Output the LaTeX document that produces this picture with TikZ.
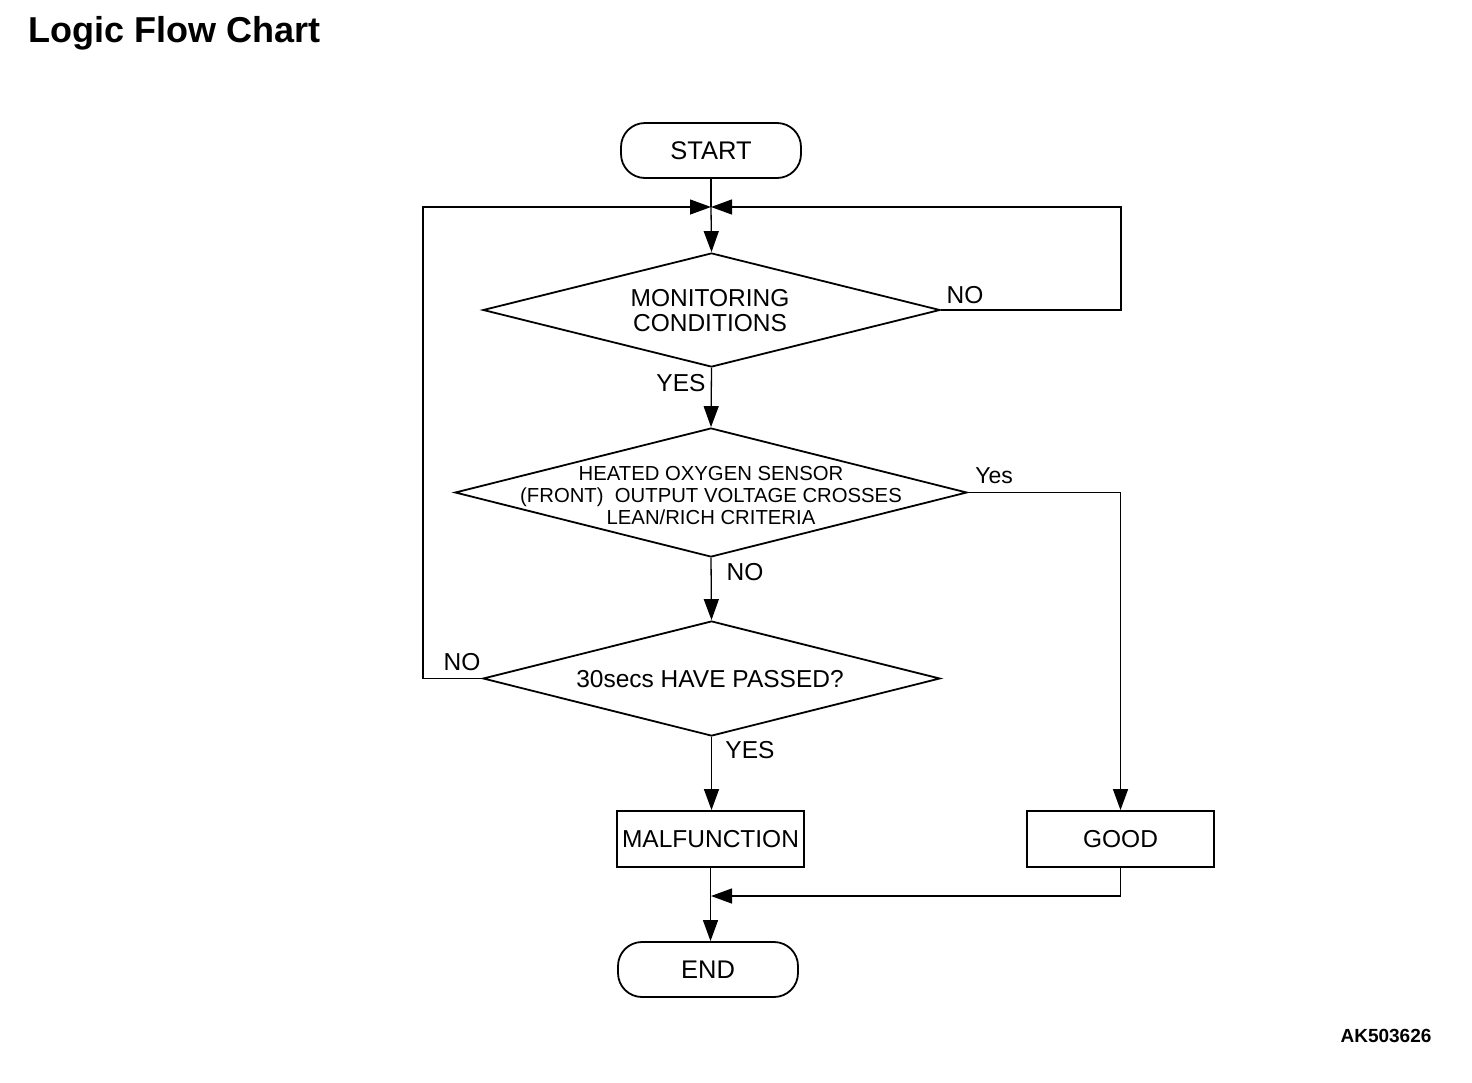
\documentclass[tikz,border=0pt]{standalone}
\usepackage{fontspec}
\setmainfont{Liberation Sans}
\usetikzlibrary{arrows.meta,shapes.geometric,calc}
\begin{document}
\begin{tikzpicture}[x=1pt,y=-1pt,
  every node/.style={font=\fontsize{24.5}{26}\selectfont},
  term/.style={draw,line width=1.8pt,rounded corners=24pt,minimum width=180pt,minimum height=55pt,inner sep=0pt,font=\fontsize{25.5}{27}\selectfont},
  procbox/.style={draw,line width=1.8pt,minimum width=187pt,minimum height=56pt,inner sep=0pt},
  decide/.style={draw,diamond,line width=1.8pt,inner sep=0pt},
  dtext/.style={align=center,inner sep=0pt},
  lbl/.style={inner sep=0pt},
  conn/.style={line width=1.3pt},
  arr/.style={conn,-{Triangle[length=21pt,width=15pt]}}
]
\useasboundingbox (0,0) rectangle (1472,1082);
\node[anchor=west,inner sep=0pt,font=\fontsize{36}{38}\selectfont\bfseries] (title) at (28,33) {Logic Flow Chart};

\node[term] (start) at (711,150.5) {START};
\node[decide,minimum width=457pt,minimum height=114pt] (d1) at (711.5,310) {};
\node[dtext,font=\fontsize{24.5}{25}\selectfont] (t1) at (710,310.5) {MONITORING\\CONDITIONS};
\node[decide,minimum width=512pt,minimum height=129pt] (d2) at (711,492.5) {};
\node[dtext,font=\fontsize{20.3}{22}\selectfont] (t2) at (711,496) {HEATED OXYGEN SENSOR\\(FRONT)\ \ OUTPUT VOLTAGE CROSSES\\LEAN/RICH CRITERIA};
\node[decide,minimum width=457pt,minimum height=115pt] (d3) at (711.5,678.5) {};
\node[dtext] (t3) at (710,679) {30secs HAVE PASSED?};
\node[procbox] (malf) at (710.5,839) {MALFUNCTION};
\node[procbox] (good) at (1120.5,839) {GOOD};
\node[term] (end) at (708,969.5) {END};

\coordinate (m) at (711,207);
\coordinate (j) at (711,896);

\draw[conn] (start.south) -- (m);
\draw[arr] (m) -- (d1.north);
\draw[arr] (d3.west) -- ++(-59,0) |- (m);
\draw[arr] (d1.east) -- ++(180,0) |- (m);
\draw[arr] (d1.south) -- (d2.north);
\draw[arr] (d2.south) -- (d3.north);
\draw[arr] (d2.east) -| (good.north);
\draw[arr] (d3.south) -- (d3.south |- malf.north);
\draw[arr] (malf.south) -- (malf.south |- end.north);
\draw[arr] (good.south) |- (j);

\node[lbl] (l1) at (965,295) {NO};
\node[lbl] (l2) at (681,383) {YES};
\node[lbl,font=\fontsize{23}{25}\selectfont] (l3) at (994,476) {Yes};
\node[lbl] (l4) at (745,572) {NO};
\node[lbl] (l5) at (462,662) {NO};
\node[lbl] (l6) at (750,750) {YES};

\node[inner sep=0pt,font=\fontsize{19}{20}\selectfont\bfseries] (code) at (1386,1036) {AK503626};
\end{tikzpicture}
\end{document}
